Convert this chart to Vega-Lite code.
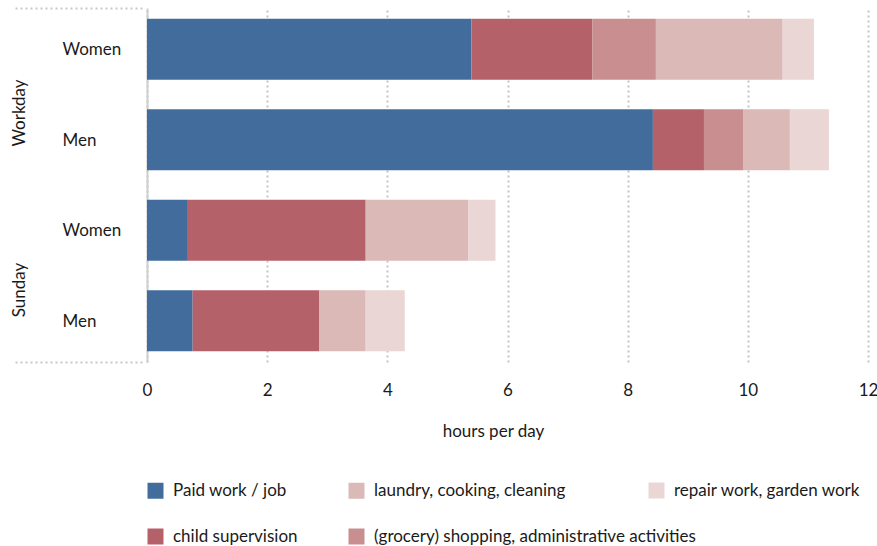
{
  "$schema": "https://vega.github.io/schema/vega-lite/v6.json",
  "width": 721,
  "height": 354,
  "autosize": {"type": "none"},
  "padding": {"left": 147, "top": 8, "right": 9, "bottom": 184},
  "config": {
    "view": {"stroke": null},
    "font": "Lato",
    "axis": {"labelFont": "Lato", "titleFont": "Lato", "labelColor": "#1a1a1a", "titleColor": "#1a1a1a"},
    "legend": {"labelFont": "Lato"}
  },
  "layer": [
    {
      "data": {
        "values": [
          {"day": "Workday", "gender": "Women", "activity": "Paid work / job", "hours": 5.40},
          {"day": "Workday", "gender": "Women", "activity": "child supervision", "hours": 2.01},
          {"day": "Workday", "gender": "Women", "activity": "(grocery) shopping, administrative activities", "hours": 1.06},
          {"day": "Workday", "gender": "Women", "activity": "laundry, cooking, cleaning", "hours": 2.11},
          {"day": "Workday", "gender": "Women", "activity": "repair work, garden work", "hours": 0.52},
          {"day": "Workday", "gender": "Men", "activity": "Paid work / job", "hours": 8.42},
          {"day": "Workday", "gender": "Men", "activity": "child supervision", "hours": 0.85},
          {"day": "Workday", "gender": "Men", "activity": "(grocery) shopping, administrative activities", "hours": 0.65},
          {"day": "Workday", "gender": "Men", "activity": "laundry, cooking, cleaning", "hours": 0.78},
          {"day": "Workday", "gender": "Men", "activity": "repair work, garden work", "hours": 0.65},
          {"day": "Sunday", "gender": "Women", "activity": "Paid work / job", "hours": 0.68},
          {"day": "Sunday", "gender": "Women", "activity": "child supervision", "hours": 2.96},
          {"day": "Sunday", "gender": "Women", "activity": "laundry, cooking, cleaning", "hours": 1.71},
          {"day": "Sunday", "gender": "Women", "activity": "repair work, garden work", "hours": 0.45},
          {"day": "Sunday", "gender": "Men", "activity": "Paid work / job", "hours": 0.76},
          {"day": "Sunday", "gender": "Men", "activity": "child supervision", "hours": 2.11},
          {"day": "Sunday", "gender": "Men", "activity": "laundry, cooking, cleaning", "hours": 0.77},
          {"day": "Sunday", "gender": "Men", "activity": "repair work, garden work", "hours": 0.65}
        ]
      },
      "transform": [
        {"calculate": "datum.day + '|' + datum.gender", "as": "group"},
        {"calculate": "indexof(['Paid work / job','child supervision','(grocery) shopping, administrative activities','laundry, cooking, cleaning','repair work, garden work'], datum.activity)", "as": "stack_rank"}
      ],
      "mark": {"type": "bar"},
      "encoding": {
        "y": {
          "field": "group",
          "type": "nominal",
          "sort": ["Workday|Women", "Workday|Men", "Sunday|Women", "Sunday|Men"],
          "scale": {"paddingInner": 0.326, "paddingOuter": 0.119},
          "axis": {
            "orient": "left",
            "title": null,
            "labelExpr": "split(datum.value, '|')[1]",
            "labelAlign": "left",
            "labelPadding": 85,
            "labelFontSize": 17,
            "labelOffset": 1,
            "ticks": false,
            "tickSize": 0,
            "domain": true,
            "domainColor": "#cfcfcf",
            "domainWidth": 2,
            "grid": false
          }
        },
        "x": {
          "field": "hours",
          "type": "quantitative",
          "stack": "zero",
          "scale": {"domain": [0, 12], "nice": false},
          "axis": {
            "orient": "bottom",
            "values": [0, 2, 4, 6, 8, 10, 12],
            "grid": true,
            "gridDash": [2, 3],
            "gridColor": "#c4c4c4",
            "gridWidth": 2,
            "domain": false,
            "ticks": false,
            "labelFlush": false,
            "labelPadding": 20,
            "labelFontSize": 17,
            "title": "hours per day",
            "titleFontSize": 17,
            "titleFontWeight": "normal",
            "titlePadding": 25,
            "titleX": 346
          }
        },
        "color": {
          "field": "activity",
          "type": "nominal",
          "scale": {
            "domain": ["Paid work / job", "child supervision", "(grocery) shopping, administrative activities", "laundry, cooking, cleaning", "repair work, garden work"],
            "range": ["#426c9c", "#b5616a", "#c98f90", "#dbb9b7", "#ead6d5"]
          },
          "legend": {
            "orient": "none",
            "direction": "horizontal",
            "legendX": 0,
            "legendY": 474,
            "title": null,
            "values": ["Paid work / job", "laundry, cooking, cleaning", "child supervision", "(grocery) shopping, administrative activities"],
            "columns": 2,
            "columnPadding": 50,
            "rowPadding": 28,
            "padding": 0,
            "symbolType": "square",
            "symbolSize": 256,
            "symbolStrokeWidth": 0,
            "labelOffset": 9,
            "labelFontSize": 17,
            "labelColor": "#1a1a1a",
            "labelLimit": 500
          }
        },
        "order": {"field": "stack_rank", "type": "quantitative"}
      }
    },
    {
      "data": {"values": [{"pos": 0}, {"pos": 2}]},
      "mark": {"type": "point", "opacity": 0, "filled": true},
      "encoding": {
        "y": {
          "field": "pos",
          "type": "quantitative",
          "scale": {"domain": [0, 2], "nice": false, "zero": false},
          "axis": {
            "orient": "left",
            "offset": 5,
            "title": null,
            "values": [0, 0.5, 1.5, 2],
            "labelExpr": "datum.value == 1.5 ? 'Workday' : datum.value == 0.5 ? 'Sunday' : ''",
            "labelAngle": -90,
            "labelAlign": "center",
            "labelBaseline": "bottom",
            "labelOffset": 16,
            "labelPadding": -13,
            "labelFontSize": 17,
            "domain": false,
            "grid": false,
            "ticks": true,
            "tickSize": 127,
            "tickDash": [2, 3],
            "tickWidth": 2,
            "tickColor": "#c8c8c8",
            "tickOpacity": {"condition": {"test": "datum.value === 0 || datum.value === 2", "value": 1}, "value": 0}
          }
        },
        "fill": {
          "datum": "repair work, garden work",
          "type": "nominal",
          "scale": {"domain": ["repair work, garden work"], "range": ["#ead6d5"]},
          "legend": {
            "orient": "none",
            "legendX": 501,
            "legendY": 474,
            "title": null,
            "padding": 0,
            "symbolType": "square",
            "symbolSize": 256,
            "symbolStrokeWidth": 0,
            "symbolOpacity": 1,
            "symbolFillColor": "#ead6d5",
            "labelOffset": 9,
            "labelFontSize": 17,
            "labelColor": "#1a1a1a",
            "labelLimit": 500
          }
        }
      }
    }
  ],
  "resolve": {"scale": {"y": "independent"}, "axis": {"y": "independent"}}
}
